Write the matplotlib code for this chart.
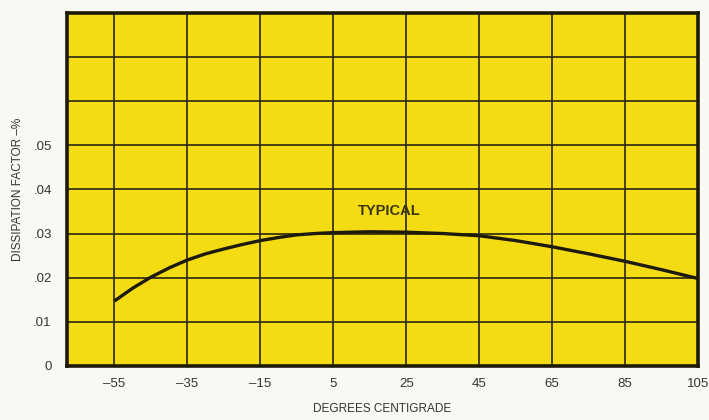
import matplotlib
matplotlib.use("Agg")
import matplotlib.pyplot as plt

temps = [-55, -50, -45, -40, -35, -30, -25, -20, -15, -10, -5, 0, 5, 15, 25, 35, 45, 55, 65, 75, 85, 95, 105]
dissipation = [0.0147, 0.0176, 0.0201, 0.0222, 0.0240, 0.0254, 0.0265, 0.0275, 0.0284, 0.0291, 0.0297, 0.0300,
               0.0302, 0.0304, 0.0303, 0.0300, 0.0295, 0.0284, 0.0270, 0.0254, 0.0237, 0.0218, 0.0198]
x_ticks = [-55, -35, -15, 5, 25, 45, 65, 85, 105]
x_tick_labels = ["\u201355", "\u201335", "\u201315", "5", "25", "45", "65", "85", "105"]
y_ticks = [0, 0.01, 0.02, 0.03, 0.04, 0.05, 0.06, 0.07, 0.08]
y_tick_labels = ["0", ".01", ".02", ".03", ".04", ".05", "", "", ""]
curve_label = "TYPICAL"

plt.rcParams['font.family'] = ['Liberation Sans Narrow', 'Liberation Sans', 'DejaVu Sans']

fig = plt.figure(figsize=(7.09, 4.2), dpi=100)
fig.patch.set_facecolor('#f9f9f4')
ax = fig.add_axes([0.0945, 0.129, 0.89, 0.84])
ax.set_facecolor('#F3DC14')

ax.plot(temps, dissipation, color='#1e1a0a', lw=2.4, solid_capstyle='butt', solid_joinstyle='round')

ax.set_xlim(-68, 105)
ax.set_ylim(0, 0.08)
ax.set_xticks(x_ticks)
ax.set_xticklabels(x_tick_labels)
ax.set_yticks(y_ticks)
ax.set_yticklabels(y_tick_labels)
ax.grid(True, color='#2a2610', lw=1.2)
ax.set_axisbelow(True)
ax.tick_params(length=0, labelsize=9.5, colors='#333333')
ax.tick_params(axis='x', pad=9)
ax.tick_params(axis='y', pad=11)
for s in ax.spines.values():
    s.set_linewidth(2.6)
    s.set_color('#1e1a0a')

ax.text(20.4, 0.035, curve_label, ha='center', va='center', fontsize=10.5, fontweight='bold',
        family=['Liberation Sans', 'DejaVu Sans'], color='#3a3410')
ax.set_xlabel("DEGREES CENTIGRADE", fontsize=8.5, color='#333333', labelpad=9,
              family=['Liberation Sans', 'DejaVu Sans'])
ax.set_ylabel("DISSIPATION FACTOR \u2013%", fontsize=8.5, color='#333333', labelpad=7,
              family=['Liberation Sans', 'DejaVu Sans'])

fig.savefig("out.png", dpi=100, facecolor=fig.get_facecolor())
